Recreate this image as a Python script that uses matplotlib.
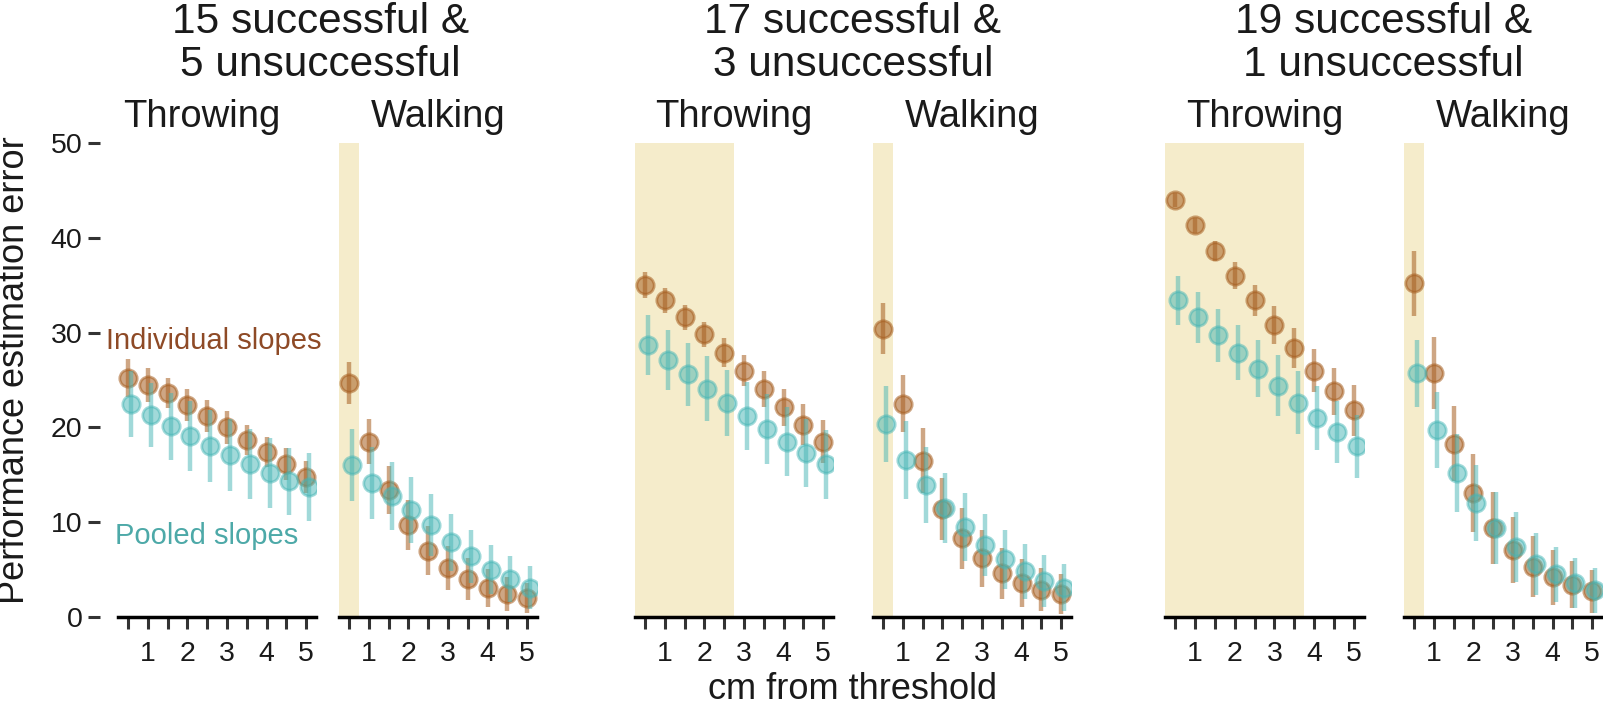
import matplotlib.pyplot as plt
import numpy as np

plt.rcParams['font.family'] = ['Liberation Sans', 'DejaVu Sans']

# distance from threshold (cm)
dist = [0.5, 1.0, 1.5, 2.0, 2.5, 3.0, 3.5, 4.0, 4.5, 5.0]

group_titles = ['15 successful &', '17 successful &', '19 successful &']
group_subtitles = ['5 unsuccessful', '3 unsuccessful', '1 unsuccessful']
tasks = ['Throwing', 'Walking']

# 15 successful & 5 unsuccessful
ind_throw_15 = [25.2, 24.5, 23.6, 22.4, 21.2, 20.0, 18.7, 17.4, 16.1, 14.8]
ind_throw_15_err = [2.0, 1.8, 1.6, 1.7, 1.7, 1.7, 1.6, 1.6, 1.7, 1.7]
pool_throw_15 = [22.5, 21.3, 20.1, 19.1, 18.0, 17.1, 16.1, 15.2, 14.3, 13.7]
pool_throw_15_err = [3.5, 3.4, 3.5, 3.7, 3.8, 3.8, 3.7, 3.7, 3.5, 3.6]
ind_walk_15 = [24.7, 18.5, 13.4, 9.7, 7.0, 5.2, 4.0, 3.1, 2.4, 2.0]
ind_walk_15_err = [2.2, 2.4, 2.5, 2.6, 2.6, 2.3, 2.2, 2.0, 1.8, 1.6]
pool_walk_15 = [16.0, 14.1, 12.8, 11.3, 9.7, 7.9, 6.4, 5.0, 4.0, 3.1]
pool_walk_15_err = [3.8, 3.8, 3.6, 3.5, 3.3, 3.0, 2.8, 2.6, 2.4, 2.3]

# 17 successful & 3 unsuccessful
ind_throw_17 = [35.0, 33.4, 31.6, 29.8, 27.9, 26.0, 24.0, 22.1, 20.3, 18.5]
ind_throw_17_err = [1.4, 1.3, 1.3, 1.35, 1.5, 1.6, 1.9, 2.0, 2.2, 2.3]
pool_throw_17 = [28.7, 27.1, 25.6, 24.1, 22.6, 21.2, 19.8, 18.5, 17.3, 16.1]
pool_throw_17_err = [3.2, 3.2, 3.3, 3.4, 3.5, 3.6, 3.7, 3.6, 3.6, 3.6]
ind_walk_17 = [30.4, 22.5, 16.5, 11.4, 8.3, 6.2, 4.6, 3.6, 2.9, 2.4]
ind_walk_17_err = [2.7, 3.0, 3.4, 3.3, 3.2, 3.0, 2.7, 2.5, 2.3, 2.1]
pool_walk_17 = [20.4, 16.6, 13.9, 11.5, 9.5, 7.6, 6.1, 4.8, 3.8, 3.1]
pool_walk_17_err = [4.0, 4.1, 4.0, 3.7, 3.6, 3.3, 3.1, 2.9, 2.7, 2.5]

# 19 successful & 1 unsuccessful
ind_throw_19 = [44.0, 41.3, 38.6, 36.0, 33.4, 30.8, 28.4, 26.0, 23.8, 21.8]
ind_throw_19_err = [0.7, 0.8, 1.05, 1.4, 1.65, 2.0, 2.1, 2.3, 2.5, 2.7]
pool_throw_19 = [33.4, 31.6, 29.7, 27.9, 26.2, 24.4, 22.6, 21.0, 19.5, 18.0]
pool_throw_19_err = [2.6, 2.7, 2.8, 2.9, 3.0, 3.2, 3.3, 3.35, 3.3, 3.3]
ind_walk_19 = [35.2, 25.7, 18.3, 13.1, 9.4, 7.1, 5.3, 4.2, 3.4, 2.7]
ind_walk_19_err = [3.4, 3.8, 4.0, 4.1, 3.8, 3.5, 3.2, 2.9, 2.5, 2.3]
pool_walk_19 = [25.7, 19.7, 15.2, 12.0, 9.4, 7.4, 5.6, 4.5, 3.6, 2.8]
pool_walk_19_err = [3.5, 4.0, 4.1, 4.0, 3.8, 3.7, 3.3, 2.9, 2.6, 2.4]

# upper end of the shaded region in each panel (None = no shading)
shade_throw = [None, 2.75, 3.75]
shade_walk = [0.75, 0.75, 0.75]

ind_color = '#A65E20'
pool_color = '#45B5B5'
shade_color = '#F5ECCB'
text_color = '#1A1A1A'

W, H = 1603, 704
panels_px = [(118, 316), (339, 537), (635, 833), (873, 1071), (1165, 1364), (1404, 1602)]
y0_px, y50_px = 617, 143


def panel(ax, ind, ind_err, pool, pool_err, shade_end, first):
    x = np.array(dist)
    if shade_end is not None:
        ax.axvspan(0.25, shade_end, color=shade_color, lw=0, zorder=0)
    ax.errorbar(x, ind, yerr=ind_err, fmt='o', ms=12.5, mew=2, color=ind_color,
                alpha=0.55, elinewidth=3.2, capsize=0, zorder=3)
    ax.errorbar(x + 0.08, pool, yerr=pool_err, fmt='o', ms=12.5, mew=2, color=pool_color,
                alpha=0.5, elinewidth=3.2, capsize=0, zorder=4)
    ax.set_xlim(0.25, 5.25)
    ax.set_ylim(0, 50)
    for s in ['top', 'right']:
        ax.spines[s].set_visible(False)
    ax.spines['bottom'].set_linewidth(2.5)
    ax.spines['bottom'].set_color('black')
    ax.set_xticks(dist)
    ax.set_xticklabels([str(int(d)) if d == int(d) else '' for d in dist])
    ax.tick_params(axis='x', length=8.6, width=2.2, color='#333333', labelsize=20.5,
                   pad=9, labelcolor=text_color)
    ax.patch.set_alpha(0)
    if first:
        ax.spines['left'].set_position(('outward', 13))
        ax.spines['left'].set_visible(False)
        ax.set_yticks([0, 10, 20, 30, 40, 50])
        ax.tick_params(axis='y', length=9, width=2.2, color='#333333', labelsize=20.5,
                       pad=3.6, labelcolor=text_color)
    else:
        ax.spines['left'].set_visible(False)
        ax.set_yticks([])


fig = plt.figure(figsize=(W / 100, H / 100), dpi=100)

data = [
    (ind_throw_15, ind_throw_15_err, pool_throw_15, pool_throw_15_err),
    (ind_walk_15, ind_walk_15_err, pool_walk_15, pool_walk_15_err),
    (ind_throw_17, ind_throw_17_err, pool_throw_17, pool_throw_17_err),
    (ind_walk_17, ind_walk_17_err, pool_walk_17, pool_walk_17_err),
    (ind_throw_19, ind_throw_19_err, pool_throw_19, pool_throw_19_err),
    (ind_walk_19, ind_walk_19_err, pool_walk_19, pool_walk_19_err),
]
shades = [shade_throw[0], shade_walk[0], shade_throw[1], shade_walk[1], shade_throw[2], shade_walk[2]]
# the first group's labels sit a little left of centre
sub_shift = [-15, 0, 0, 0, 0, 0]
title_shift = [-7, 0, 0]

bottom = (H - y0_px) / H
height = (y0_px - y50_px) / H
axes = []
for i, (l, r) in enumerate(panels_px):
    ax = fig.add_axes([l / W, bottom, (r - l) / W, height])
    panel(ax, *data[i], shades[i], i == 0)
    axes.append(ax)
    cx = ((l + r) / 2 + sub_shift[i]) / W
    fig.text(cx, (H - 127) / H, tasks[i % 2], ha='center', va='baseline',
             fontsize=27.5, color=text_color)

for g in range(3):
    l = panels_px[2 * g][0]
    r = panels_px[2 * g + 1][1]
    cx = ((l + r) / 2 + title_shift[g]) / W
    fig.text(cx, (H - 33) / H, group_titles[g], ha='center', va='baseline',
             fontsize=30.5, color=text_color)
    fig.text(cx, (H - 76) / H, group_subtitles[g], ha='center', va='baseline',
             fontsize=30.5, color=text_color)

axes[0].text(2.67, 28.3, 'Individual slopes', ha='center', va='baseline', fontsize=21,
             color='#8E4A26', clip_on=False, zorder=5)
axes[0].text(2.5, 7.7, 'Pooled slopes', ha='center', va='baseline', fontsize=21,
             color='#4DA9A8', clip_on=False, zorder=5)

fig.text(15 / W, (H - 370) / H, 'Performance estimation error', rotation=90,
         ha='center', va='center', fontsize=26, color=text_color)
fig.text(853 / W, 5 / H, 'cm from threshold', ha='center', va='baseline',
         fontsize=26, color=text_color)

fig.savefig('out.png', dpi=100)
